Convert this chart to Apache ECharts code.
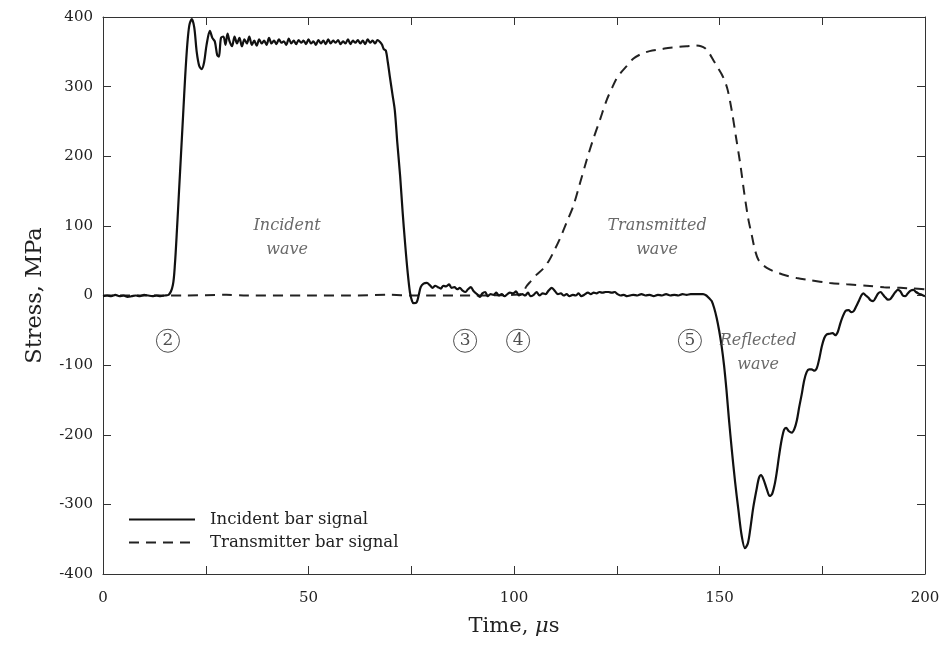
<!DOCTYPE html>
<html><head><meta charset="utf-8">
<script src="https://cdn.jsdelivr.net/npm/echarts@6/dist/echarts.min.js"></script>
<style>html,body{margin:0;padding:0;background:#fff}#c{width:947px;height:648px}</style>
</head><body><div id="c"></div>
<script>
// Incident bar signal (solid)
const incidentTime = [0,1,2,3,4,5,6,7,8,9,10,11,12,13,14,15,16,17,17.5,18,18.5,19,19.5,20,20.5,21,21.6,22.2,22.8,23.4,24,24.6,25.2,26,26.6,27.2,27.8,28.2,28.7,29.3,29.8,30.3,30.8,31.4,32,32.6,33.2,33.8,34.4,35,35.6,36.2,36.8,37.4,38,38.6,39.2,39.8,40.4,41,41.6,42.2,42.8,43.4,44,44.6,45.2,45.8,46.4,47,47.6,48.2,48.8,49.4,50,50.6,51.2,51.8,52.4,53,53.6,54.2,54.8,55.4,56,56.6,57.2,57.8,58.4,59,59.6,60.2,60.8,61.4,62,62.6,63.2,63.8,64.4,65,65.6,66.2,66.8,67.4,67.9,68.3,68.8,69.3,69.8,70.4,71,71.6,72.3,72.9,73.5,74.1,74.7,75.2,75.6,76.3,76.8,77.3,78,78.8,79.5,80.2,80.8,81.5,82.2,82.8,83.5,84.2,84.8,85.5,86.2,86.8,87.5,88.2,88.8,89.5,90.2,91,91.7,92.3,93,93.6,94.3,95,95.7,96.3,97,97.7,98.4,99,99.8,100.5,101.2,102,102.7,103.4,104,104.8,105.5,106.2,107,107.7,108.4,109.2,110,110.7,111.4,112.1,112.8,113.5,114.3,115,115.7,116.4,117.1,118,118.7,119.4,120.1,120.8,121.5,122.3,123,123.8,124.5,125.2,126,126.7,127.5,128.2,129,130,131,132,133,134,135,136,137,138,139,140,141,142,143,144,145,146,146.8,147.5,148.1,148.7,149.3,149.9,150.5,151.1,151.7,152.3,153,153.8,154.6,155.4,156.2,156.9,157.5,158.2,159,159.6,160.1,160.7,161.5,162.2,162.8,163.4,163.9,164.5,165.1,165.7,166.2,166.9,167.6,168.2,168.8,169.4,170,170.6,171.2,171.8,172.4,173.1,173.7,174.3,174.9,175.5,176.1,176.8,177.5,178.2,178.8,179.4,180,180.7,181.4,182.1,182.7,183.3,183.9,184.5,185,185.6,186.2,186.8,187.4,188,188.6,189.2,189.8,190.4,191,191.6,192.2,192.8,193.4,194,194.6,195.2,195.8,196.5,197.2,197.8,198.4,199.2,200];
const incidentStress = [-1,0,-1,1,-1,0,-2,-1,0,-1,1,0,-1,0,-1,0,1,15,45,95,150,205,260,315,360,388,397,385,350,330,325,335,360,380,370,365,345,343,370,372,360,376,365,358,372,362,370,358,368,362,372,360,366,359,368,362,366,360,370,362,366,361,368,363,365,360,369,362,366,361,367,363,366,361,368,362,365,360,367,362,366,361,368,362,366,363,367,361,365,362,368,361,366,363,367,362,366,361,368,363,366,362,367,364,360,354,352,335,314,290,266,220,171,120,75,35,4,-8,-11,-10,0,12,17,18,15,11,14,12,10,14,13,16,11,12,9,11,7,5,9,12,6,2,-2,3,5,-1,2,1,4,0,2,-1,2,4,3,6,0,2,0,4,-1,1,5,0,3,2,7,11,6,2,3,0,2,-1,1,0,3,-1,1,4,2,4,3,5,4,5,5,4,5,2,0,1,-1,0,1,0,2,0,1,-1,1,0,2,0,1,0,2,1,2,2,2,2,0,-4,-8,-18,-32,-50,-72,-100,-136,-178,-222,-268,-308,-345,-363,-356,-335,-305,-279,-262,-258,-264,-278,-288,-285,-272,-255,-230,-208,-193,-190,-195,-197,-192,-180,-160,-142,-122,-110,-106,-106,-108,-104,-90,-73,-61,-56,-55,-54,-57,-52,-40,-30,-22,-21,-24,-22,-15,-8,0,3,0,-3,-7,-8,-3,3,5,1,-3,-6,-5,0,5,8,6,0,-1,3,7,8,5,3,1,-1];

// Transmitter bar signal (dashed)
const transmittedTime = [0,10,20,30,35,50,60,70,75,80,90,100,102,103,104,105.5,107,108.5,109.5,111.2,112.8,114.4,116,117.7,119.3,120.9,122.5,124,125,126,127.5,129,131,133,136,138,140,142,144,145.5,146.5,147.5,148.5,149.5,150.5,151.3,152,153,154,155,156,157,157.8,158.6,159.4,160.5,162.3,164,166,168.8,172,176.9,181,185.8,190,194,197,200];
const transmittedStress = [0,0,0,1,0,0,0,1,0,0,0,1,3,13,20,30,38,50,61,82,105,128,160,195,225,252,280,300,312,320,330,340,347,351,354,356,357,358,359,358,355,348,338,328,318,308,295,265,228,191,148,110,88,66,52,44,37,33,29,25,22,18,16,14,12,11,10,9];

// Annotations
const markerLabels = ['2','3','4','5'];
const markerTime = [15.8, 88.1, 101, 142.8];
const markerStress = [-65, -65, -65, -65];
const waveLabels = ['Incident\nwave', 'Transmitted\nwave', 'Reflected\nwave'];
const waveTime = [44.8, 134.8, 159.4];
const waveStress = [83, 83, -83];

const xTicks = {min: 0, max: 200, step: 25, labelStep: 50};
const yTicks = {min: -400, max: 400, step: 100};

const zip = (a, b) => a.map((v, i) => [v, b[i]]);
const FONT = 'DejaVu Serif';
const axisLine = {show: true, onZero: false, lineStyle: {color: '#333', width: 1}};
const tick = {show: true, inside: true, length: 8, lineStyle: {color: '#333'}};

const chart = echarts.init(document.getElementById('c'));
chart.setOption({
  animation: false,
  backgroundColor: '#fff',
  grid: {left: 103, right: 22, top: 17, bottom: 74, containLabel: false},
  legend: {
    data: ['Incident bar signal', 'Transmitter bar signal'],
    orient: 'vertical', left: 123, top: 506, itemWidth: 66, itemHeight: 14, itemGap: 6,
    itemStyle: {opacity: 0},
    textStyle: {fontFamily: FONT, fontSize: 16.5, color: '#222', padding: [0, 0, 0, 10]}
  },
  xAxis: [{
    type: 'value', min: xTicks.min, max: xTicks.max, interval: xTicks.step, position: 'bottom',
    name: 'Time, {i|μ}s', nameLocation: 'middle', nameGap: 42,
    nameTextStyle: {fontFamily: FONT, fontSize: 21, color: '#222', rich: {i: {fontFamily: FONT, fontStyle: 'italic', fontSize: 21, color: '#222'}}},
    axisLine: axisLine, axisTick: tick, splitLine: {show: false},
    axisLabel: {margin: 17, fontFamily: FONT, fontSize: 15, color: '#222',
      formatter: v => (v % xTicks.labelStep === 0 ? String(v) : '')}
  }, {
    type: 'value', min: xTicks.min, max: xTicks.max, interval: xTicks.step, position: 'top',
    axisLine: axisLine, axisTick: tick, splitLine: {show: false}, axisLabel: {show: false}
  }],
  yAxis: [{
    type: 'value', min: yTicks.min, max: yTicks.max, interval: yTicks.step, position: 'left',
    name: 'Stress, MPa', nameLocation: 'middle', nameGap: 56,
    nameTextStyle: {fontFamily: FONT, fontSize: 22.5, color: '#222'},
    axisLine: axisLine, axisTick: tick, splitLine: {show: false},
    axisLabel: {margin: 10, fontFamily: FONT, fontSize: 15, color: '#222'}
  }, {
    type: 'value', min: yTicks.min, max: yTicks.max, interval: yTicks.step, position: 'right',
    axisLine: axisLine, axisTick: tick, splitLine: {show: false}, axisLabel: {show: false}
  }],
  series: [
    {name: 'Incident bar signal', type: 'line', data: zip(incidentTime, incidentStress),
     symbol: 'none', smooth: 0.3, lineStyle: {color: '#111', width: 2.2}, itemStyle: {color: '#111'}, z: 3},
    {name: 'Transmitter bar signal', type: 'line', data: zip(transmittedTime, transmittedStress),
     symbol: 'none', smooth: 0.3, lineStyle: {color: '#222', width: 2, type: [10, 7]}, itemStyle: {color: '#222'}, z: 2},
    {name: 'markers', type: 'scatter', data: zip(markerTime, markerStress), symbol: 'circle', symbolSize: 23,
     itemStyle: {color: 'rgba(255,255,255,0)', borderColor: '#222', borderWidth: 1},
     label: {show: true, position: 'inside', fontFamily: FONT, fontSize: 17, color: '#222',
       formatter: p => markerLabels[p.dataIndex]}, silent: true, z: 4},
    {name: 'waves', type: 'scatter', data: zip(waveTime, waveStress), symbol: 'circle', symbolSize: 1,
     itemStyle: {color: 'rgba(255,255,255,0)'},
     label: {show: true, position: 'inside', fontFamily: FONT, fontStyle: 'italic', fontSize: 16, lineHeight: 24, color: '#444', align: 'center',
       formatter: p => waveLabels[p.dataIndex]}, silent: true, z: 4}
  ]
});
</script>
</body></html>
